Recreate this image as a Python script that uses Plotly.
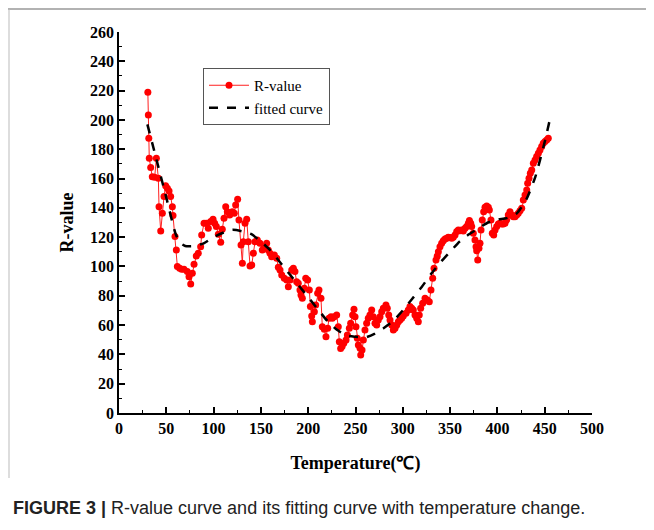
import plotly.graph_objects as go

# ---------------- data ----------------
temperature = [
    30.5, 31.0, 31.5, 32.0, 33.5, 35.2, 37.7, 39.5, 41.6, 42.3, 44.1, 45.8, 47.6, 49.3, 51.1, 52.9,
    54.6, 56.4, 57.1, 59.2, 60.6, 61.7, 64.1, 66.2, 68.7, 72.2, 74.0, 75.8, 77.5, 79.3, 81.7, 83.8,
    86.3, 87.4, 89.9, 92.3, 94.4, 96.9, 99.4, 101.1, 102.9, 105.0, 107.5, 109.2, 111.0, 112.8, 114.5,
    117.0, 119.8, 121.9, 123.3, 125.4, 126.8, 129.0, 130.4, 131.4, 133.2, 135.0, 136.7, 138.5, 140.3,
    142.0, 143.8, 146.2, 149.0, 151.5, 153.6, 156.1, 157.8, 159.6, 161.4, 164.2, 166.7, 168.4, 170.2,
    172.0, 174.7, 177.3, 179.0, 180.8, 182.6, 184.3, 186.0, 187.8, 189.5, 191.3, 192.4, 193.8, 195.9,
    197.4, 199.4, 201.2, 202.3, 203.7, 204.4, 206.5, 207.9, 210.0, 211.4, 213.5, 214.9, 217.0, 218.8,
    220.6, 222.0, 224.1, 225.5, 227.6, 230.1, 231.8, 232.9, 234.3, 235.8, 237.6, 240.0, 241.4, 243.5,
    244.9, 247.0, 248.4, 249.5, 250.5, 251.9, 253.0, 254.8, 255.5, 256.9, 258.3, 260.0, 261.8, 263.5,
    265.3, 267.1, 268.8, 270.6, 272.4, 274.1, 275.9, 277.7, 279.4, 282.2, 283.6, 285.1, 286.5, 288.3,
    290.0, 291.8, 293.6, 295.3, 297.0, 298.8, 300.5, 303.4, 305.8, 307.6, 309.4, 311.1, 312.9, 314.7,
    316.4, 317.4, 318.9, 321.0, 323.5, 325.9, 328.0, 329.8, 331.6, 333.0, 335.1, 336.4, 337.6, 339.3,
    341.1, 342.8, 344.6, 346.4, 348.1, 349.9, 351.7, 353.4, 355.2, 357.0, 358.7, 360.5, 362.3, 364.0,
    365.8, 367.5, 369.3, 370.4, 371.8, 372.8, 374.5, 376.3, 377.4, 378.1, 379.2, 380.5, 381.6, 382.7,
    384.0, 385.5, 386.9, 388.7, 390.4, 391.5, 393.2, 394.6, 396.1, 397.5, 399.3, 401.0, 402.7, 404.5,
    406.2, 408.0, 409.8, 411.5, 413.3, 415.1, 416.8, 418.6, 420.4, 422.1, 423.9, 425.7, 427.4, 429.2,
    431.0, 432.0, 433.4, 434.8, 436.3, 438.0, 439.8, 441.5, 443.3, 445.0, 446.8, 448.5, 450.3, 452.1,
    453.8,
]
r_value = [
    218.9, 203.4, 187.5, 173.8, 167.5, 161.3, 160.9, 173.8, 160.2, 140.8, 124.2, 136.3, 147.7, 155.0, 153.4, 151.5,
    147.7, 140.8, 134.7, 120.4, 111.3, 99.9, 98.8, 98.1, 98.1, 96.5, 93.0, 88.0, 95.3, 101.5, 107.2, 109.0,
    113.5, 121.5, 129.5, 129.5, 126.0, 130.6, 132.2, 129.5, 127.2, 122.0, 116.5, 125.4, 132.9, 140.8, 137.4,
    135.2, 137.4, 136.3, 142.0, 145.9, 131.7, 114.7, 102.2, 116.9, 129.5, 132.2, 116.9, 100.3, 101.0,
    109.0, 116.9, 118.1, 115.8, 111.3, 113.5, 115.8, 111.3, 109.0, 106.7, 107.8, 105.6, 99.4, 97.6,
    94.2, 91.9, 90.8, 86.2, 90.8, 97.6, 98.8, 96.5, 89.6, 88.5, 84.0, 80.5, 78.3, 85.1,
    91.9, 90.8, 84.0, 72.6, 66.2, 62.3, 69.1, 73.7, 81.7, 84.0, 78.3, 58.9, 57.1, 52.1,
    57.8, 64.6, 65.7, 64.6, 65.7, 66.9, 58.9, 48.7, 44.0, 45.3, 47.6, 49.8, 53.2, 57.8,
    61.2, 66.9, 70.8, 65.7, 58.9, 51.0, 46.4, 44.2, 39.6, 43.0, 49.8, 56.7, 61.2, 64.6,
    66.9, 70.3, 65.7, 61.2, 60.1, 63.5, 65.7, 69.1, 71.5, 73.7, 71.5, 66.9, 63.5, 60.1,
    56.7, 57.8, 60.1, 62.3, 63.5, 64.6, 66.2, 68.0, 70.3, 72.6, 71.5, 70.3, 66.9, 64.6,
    62.3, 66.9, 71.5, 74.9, 78.3, 77.1, 76.0, 84.0, 91.9, 98.8, 104.4, 107.0, 110.1, 113.5,
    115.8, 117.6, 118.8, 119.2, 119.9, 119.7, 119.2, 119.9, 121.5, 123.8, 124.9, 124.4, 124.9, 124.2,
    126.1, 127.2, 129.5, 131.3, 129.5, 127.2, 122.7, 118.1, 113.5, 110.8, 104.4, 112.4, 115.8, 124.9,
    131.7, 137.4, 140.4, 141.3, 140.4, 138.6, 131.7, 122.7, 121.5, 124.9, 127.2, 129.0, 129.5, 129.0,
    129.0, 129.5, 131.7, 135.2, 137.4, 135.2, 134.0, 134.0, 135.2, 136.3, 138.1, 139.7, 145.4, 148.8,
    152.2, 156.8, 160.2, 163.6, 165.9, 170.4, 172.7, 175.0, 177.3, 179.5, 181.8, 184.1, 185.2, 186.3,
    187.5,
]

fit_temperature = [30, 40, 50, 60, 65, 70, 80, 90, 100, 110, 120, 130, 140, 150, 160, 170, 180, 190,
                   200, 210, 220, 230, 240, 250, 260, 270, 280, 290, 300, 310, 320, 330, 340, 350,
                   360, 370, 380, 390, 400, 410, 420, 430, 440, 450, 455]
fit_r_value = [197, 172, 147, 122, 116, 114, 114, 116, 120, 123, 125, 124, 122, 117, 111, 103, 95, 87,
               79, 71, 63, 57, 53, 52, 51.5, 54, 58, 63, 70, 78, 86, 95, 103, 110,
               117, 122, 126, 130, 132, 133, 136, 145, 161, 185, 199]

x_ticks = [0, 50, 100, 150, 200, 250, 300, 350, 400, 450, 500]
y_ticks = list(range(0, 261, 20))

x_title = "Temperature(℃)"
y_title = "R-value"
caption_bold = "FIGURE 3 |"
caption_text = " R-value curve and its fitting curve with temperature change."

# ---------------- figure ----------------
OFF = 8                      # page body margin of the browser
W, H = 654 - 2 * OFF, 530 - 2 * OFF
PL, PR, PT, PB = 119, 592, 32, 413   # plot area in page pixels
L, T = PL - OFF, PT - OFF
R = W - (PR - OFF)
B = H - (PB - OFF)
pw, ph = PR - PL, PB - PT

def px_x(p):
    return (p - PL) / pw

def px_y(p):
    return (PB - p) / ph

serif = "Liberation Serif, Times New Roman, serif"

fig = go.Figure()
fig.add_trace(go.Scatter(
    x=temperature, y=r_value, mode="lines+markers", name="R-value",
    line=dict(color="#ff2020", width=1),
    marker=dict(color="#ff0000", size=7, line=dict(width=0)),
))
fig.add_trace(go.Scatter(
    x=fit_temperature, y=fit_r_value, mode="lines", name="fitted curve",
    line=dict(color="black", width=2.5, dash="dash", shape="spline", smoothing=0.6),
))

axis_common = dict(
    showline=True, linecolor="black", linewidth=1.5, mirror=False,
    ticks="inside", ticklen=6, tickwidth=1.5, tickcolor="black",
    showgrid=False, zeroline=False,
    tickfont=dict(family=serif, size=16, color="black", weight="bold"),
)

fig.update_xaxes(
    range=[0, 500], tickvals=x_ticks, ticktext=[str(v) for v in x_ticks],
    minor=dict(dtick=25, ticks="inside", ticklen=3, tickwidth=1.2, tickcolor="black"),
    title=dict(text=x_title, font=dict(family=serif, size=18, color="black", weight="bold"), standoff=20),
    **axis_common,
)
fig.update_yaxes(
    range=[0, 260], tickvals=y_ticks, ticktext=[str(v) for v in y_ticks],
    minor=dict(dtick=10, ticks="inside", ticklen=3, tickwidth=1.2, tickcolor="black"),
    title=dict(text=y_title, font=dict(family=serif, size=18, color="black", weight="bold"), standoff=12),
    **axis_common,
)

fig.update_layout(
    width=W, height=H,
    margin=dict(l=L, r=R, t=T, b=B, pad=0),
    paper_bgcolor="white", plot_bgcolor="white",
    showlegend=True,
    legend=dict(
        x=px_x(203), y=px_y(68), xanchor="left", yanchor="top",
        bgcolor="white", bordercolor="#555555", borderwidth=1,
        font=dict(family=serif, size=15, color="black"),
        itemwidth=40, tracegroupgap=0,
    ),
    shapes=[
        dict(type="line", xref="paper", yref="paper", x0=px_x(8), x1=px_x(654), y0=px_y(9), y1=px_y(9),
             line=dict(color="#999999", width=1.5)),
        dict(type="line", xref="paper", yref="paper", x0=px_x(9), x1=px_x(9), y0=px_y(9), y1=px_y(478),
             line=dict(color="#bbbbbb", width=1)),
    ],
    annotations=[
        dict(xref="paper", yref="paper", x=px_x(11), y=px_y(520), xanchor="left", yanchor="bottom",
             showarrow=False,
             text="<b>" + caption_bold + "</b>" + caption_text,
             font=dict(family="Liberation Sans, Arial, sans-serif", size=18, color="#222222")),
    ],
)

fig.write_html("out.html")
